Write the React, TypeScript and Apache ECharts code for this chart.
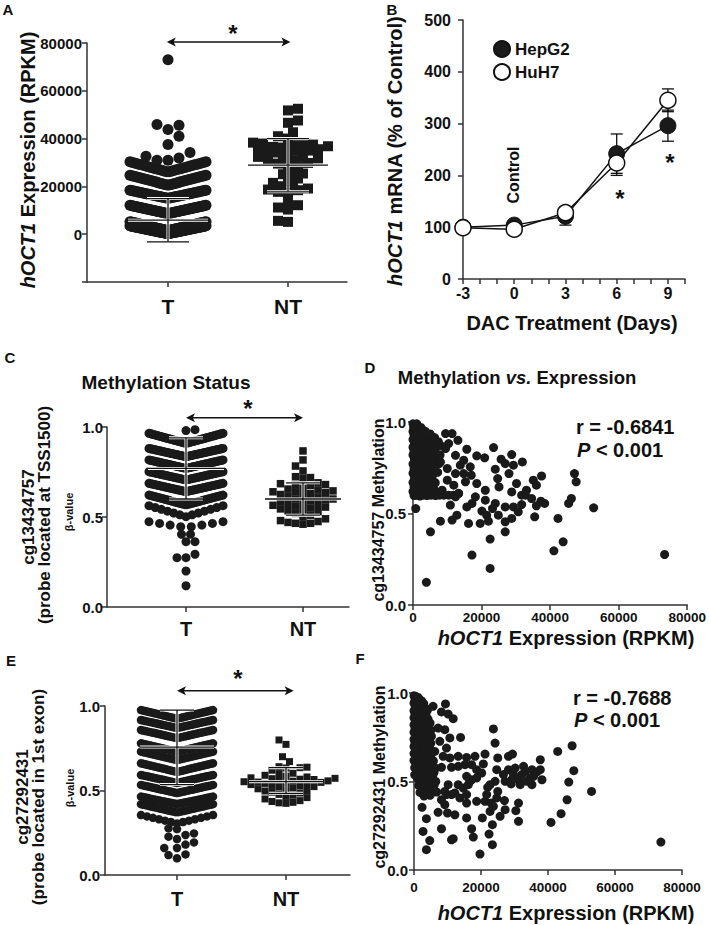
import React, { useEffect, useRef } from "react";
import * as echarts from "echarts";

const FONT = "'Liberation Sans', Arial, Helvetica, sans-serif";
const INK = "#1a1a1a";
const GROUPS = ["T", "NT"];

// ---------- Panel A: hOCT1 expression (RPKM)
// GraphPad dot-plot rows of the tumour group: lo = value at row centre, hi = value at row ends, n = points
const A_T_ROWS = [
  { lo: 200, hi: 3500, n: 80 },
  { lo: 1500, hi: 5200, n: 70 },
  { lo: 8600, hi: 12100, n: 55 },
  { lo: 15000, hi: 18400, n: 45 },
  { lo: 20500, hi: 24700, n: 40 },
  { lo: 26000, hi: 30300, n: 30 },
];
const A_T_SINGLE = [30960, 30960, 31900, 32640, 34160, 37500, 41000, 43800, 45600, 45900, 73000];
const A_NT = [
  52480, 51790, 47580, 46610, 42650, 40030, 40990, 37930, 37230, 36810, 36530, 37230, 37500, 38300,
  35970, 34990, 34160, 33880, 34160, 34990, 35560, 36250, 32370, 31680, 30980, 31260, 31680, 32370,
  29540, 28150, 28430, 29820, 25100, 25380, 25380, 23300, 22600, 20500, 18690, 17710, 17710, 18410,
  19110, 20080, 21480, 14220, 10320, 11160, 12130, 5160, 5580,
];
// [mean, lower, upper]
const A_STATS = [[5860, -3200, 14900], [28870, 17710, 40030]];
// significance bracket: [from group, to group, height]
const A_BRACKET = [0.99, 2.02, 80400];

// ---------- Panel B: DAC treatment time course
const DAYS = [-3, 0, 3, 6, 9];
const HEPG2 = [100, 104, 121, 242, 296];
const HEPG2_ERR = [0, 6, 17, 38, 30];
const HUH7 = [99, 96, 128, 224, 345];
const HUH7_ERR = [0, 5, 10, 24, 22];

// ---------- Panel C: cg13434757 beta values
const C_T_ROWS = [
  { lo: 0.909, hi: 0.965, n: 50 },
  { lo: 0.835, hi: 0.881, n: 50 },
  { lo: 0.77, hi: 0.817, n: 50 },
  { lo: 0.706, hi: 0.752, n: 45 },
  { lo: 0.641, hi: 0.687, n: 45 },
  { lo: 0.567, hi: 0.622, n: 40 },
  { lo: 0.502, hi: 0.563, n: 13 },
  { lo: 0.441, hi: 0.474, n: 8 },
];
const C_T_SINGLE = [0.98, 0.985, 0.404, 0.404, 0.363, 0.363, 0.293, 0.274, 0.274, 0.2, 0.118];
const C_NT = [
  0.867, 0.817, 0.783, 0.756, 0.724, 0.719, 0.715, 0.69, 0.685, 0.68, 0.68, 0.675, 0.66, 0.655, 0.65,
  0.645, 0.64, 0.64, 0.635, 0.63, 0.625, 0.62, 0.615, 0.61, 0.6, 0.6, 0.595, 0.59, 0.585, 0.58, 0.575,
  0.57, 0.565, 0.56, 0.555, 0.55, 0.545, 0.54, 0.535, 0.53, 0.52, 0.51, 0.5, 0.49, 0.48, 0.475, 0.47,
  0.465, 0.465, 0.46,
];
const C_STATS = [[0.77, 0.6, 0.94], [0.6, 0.51, 0.69]];
const C_BRACKET = [1.0, 2.0, 1.052];

// ---------- Panel E: cg27292431 beta values
const E_T_ROWS = [
  { lo: 0.925, hi: 0.976, n: 35 },
  { lo: 0.87, hi: 0.917, n: 35 },
  { lo: 0.81, hi: 0.858, n: 35 },
  { lo: 0.73, hi: 0.779, n: 35 },
  { lo: 0.68, hi: 0.73, n: 35 },
  { lo: 0.61, hi: 0.661, n: 35 },
  { lo: 0.545, hi: 0.592, n: 35 },
  { lo: 0.485, hi: 0.533, n: 35 },
  { lo: 0.42, hi: 0.464, n: 30 },
  { lo: 0.37, hi: 0.419, n: 30 },
  { lo: 0.305, hi: 0.355, n: 13 },
];
const E_T_SINGLE = [0.276, 0.246, 0.227, 0.237, 0.272, 0.213, 0.18, 0.16, 0.16, 0.193, 0.122, 0.099, 0.118];
const E_NT = [
  0.799, 0.773, 0.7, 0.671, 0.641, 0.638, 0.635, 0.633, 0.62, 0.602, 0.6, 0.59, 0.585, 0.58, 0.575,
  0.572, 0.57, 0.567, 0.565, 0.56, 0.557, 0.555, 0.552, 0.55, 0.548, 0.545, 0.542, 0.54, 0.535, 0.53,
  0.527, 0.523, 0.52, 0.515, 0.51, 0.505, 0.5, 0.497, 0.49, 0.485, 0.477, 0.472, 0.465, 0.458, 0.45,
  0.44, 0.435, 0.43, 0.427, 0.424,
];
const E_STATS = [[0.757, 0.535, 0.976], [0.552, 0.483, 0.635]];
const E_BRACKET = [1.0, 2.07, 1.09];

// ---------- Panel D: expression (RPKM) vs cg13434757 methylation
const D_POINTS = [
  [0,0.99],[500,0.985],[1100,0.99],[200,0.968],[900,0.972],[1600,0.965],[2300,0.97],
  [0,0.948],[700,0.952],[1400,0.945],[2100,0.95],[2900,0.955],[3600,0.948],
  [300,0.93],[1000,0.925],[1800,0.932],[2600,0.928],[3300,0.922],[4200,0.93],[5000,0.935],
  [0,0.905],[600,0.91],[1300,0.902],[2000,0.908],[2800,0.912],[3700,0.905],[4500,0.9],[5400,0.91],[6300,0.915],
  [400,0.885],[1100,0.89],[1900,0.882],[2700,0.886],[3500,0.878],[4300,0.884],[5200,0.88],[6200,0.888],[7400,0.892],
  [0,0.862],[800,0.866],[1500,0.858],[2300,0.864],[3100,0.86],[4000,0.855],[4900,0.862],[5900,0.858],[7000,0.866],[8200,0.87],
  [300,0.842],[1100,0.838],[1800,0.845],[2600,0.84],[3400,0.835],[4300,0.842],[5300,0.838],[6500,0.835],
  [0,0.82],[700,0.816],[1500,0.822],[2200,0.815],[3000,0.818],[3900,0.812],[4800,0.82],[5800,0.815],[6800,0.81],[7900,0.82],
  [400,0.795],[1200,0.79],[2000,0.798],[2800,0.792],[3600,0.788],[4500,0.795],[5500,0.79],
  [0,0.77],[800,0.775],[1600,0.768],[2400,0.772],[3200,0.765],[4100,0.77],[5100,0.762],[6300,0.768],[7600,0.772],
  [300,0.745],[1100,0.75],[1900,0.742],[2700,0.748],[3500,0.74],[4400,0.745],[5300,0.738],
  [0,0.72],[700,0.725],[1500,0.718],[2300,0.722],[3100,0.715],[3900,0.72],[4900,0.712],[6000,0.718],[7200,0.725],
  [400,0.695],[1200,0.7],[2000,0.692],[2800,0.698],[3700,0.69],[4600,0.695],[5600,0.688],
  [0,0.67],[800,0.675],[1600,0.668],[2500,0.672],[3300,0.665],[4200,0.67],[5200,0.662],[6500,0.668],
  [300,0.645],[1100,0.65],[1900,0.642],[2800,0.648],[3700,0.64],[4800,0.645],[6000,0.638],
  [0,0.62],[700,0.625],[1500,0.618],[2400,0.622],[3300,0.615],[4300,0.62],[5500,0.612],[6800,0.618],
  [300,0.598],[1100,0.6],[2000,0.595],[3000,0.6],[4100,0.598],[5300,0.6],[6600,0.598],[7800,0.6],[9000,0.6],
  [10400,0.6],[11800,0.6],[13300,0.61],
  [9500,0.855],[10400,0.882],[12400,0.818],[10000,0.746],[12400,0.718],[10000,0.682],[11900,0.655],
  [13300,0.609],[8500,0.627],[13800,0.764],[8000,0.782],
  [9500,0.937],[11400,0.937],[13100,0.9],[15700,0.851],[23500,0.86],[18600,0.815],[20900,0.804],
  [25700,0.797],[28800,0.822],[26900,0.773],[29300,0.764],[31900,0.782],[14800,0.791],[16700,0.755],
  [17000,0.709],[14800,0.718],[15300,0.673],[18600,0.664],[21100,0.627],[24000,0.742],[24700,0.691],
  [25100,0.645],[28000,0.718],[30200,0.664],[28800,0.618],[31700,0.6],[35100,0.682],[37500,0.705],
  [36000,0.655],[33100,0.627],[34600,0.582],[37300,0.567],[36000,0.542],[31700,0.549],[29300,0.536],
  [26900,0.536],[24000,0.555],[23200,0.527],[21100,0.573],[20100,0.513],[21500,0.491],[18200,0.591],
  [17200,0.555],[15700,0.536],[12400,0.591],[12800,0.491],[10900,0.546],[11400,0.464],[8000,0.458],
  [5100,0.4],[16200,0.446],[19600,0.446],[22000,0.458],[24900,0.491],[26900,0.455],[26900,0.4],
  [28800,0.473],[30700,0.509],[35500,0.482],[42300,0.473],[45400,0.555],[46200,0.582],[47100,0.718],
  [47600,0.673],[52700,0.531],[43800,0.345],[41100,0.296],[22500,0.36],[17200,0.273],[22500,0.2],
  [3900,0.124],[73400,0.276],[800,0.527],[38400,0.555],[32800,0.6],
];

// ---------- Panel F: expression (RPKM) vs cg27292431 methylation
const F_POINTS = [
  [0,0.985],[600,0.98],[1200,0.975],[300,0.962],[900,0.958],[1600,0.965],[2300,0.955],
  [0,0.942],[700,0.938],[1400,0.945],[2100,0.935],[2900,0.94],
  [400,0.92],[1100,0.925],[1800,0.918],[2600,0.922],[3400,0.915],
  [0,0.9],[800,0.905],[1500,0.898],[2300,0.9],[3100,0.895],[4000,0.902],
  [300,0.88],[1100,0.876],[1900,0.882],[2700,0.878],[3600,0.872],
  [0,0.86],[700,0.856],[1500,0.862],[2300,0.855],[3200,0.858],[4200,0.852],
  [400,0.838],[1200,0.842],[2000,0.835],[2900,0.84],[3800,0.836],[4800,0.83],
  [0,0.82],[800,0.815],[1600,0.822],[2500,0.818],[3400,0.812],[4400,0.816],
  [300,0.798],[1100,0.802],[1900,0.795],[2800,0.8],[3800,0.796],[5000,0.79],
  [0,0.778],[700,0.782],[1500,0.775],[2400,0.78],[3300,0.772],[4300,0.776],
  [400,0.758],[1200,0.762],[2100,0.755],[3000,0.76],[4000,0.752],[5200,0.756],
  [0,0.738],[800,0.742],[1700,0.735],[2600,0.74],[3600,0.732],
  [300,0.718],[1100,0.722],[2000,0.715],[2900,0.72],[3900,0.712],[5000,0.716],
  [0,0.698],[700,0.702],[1500,0.695],[2400,0.7],[3400,0.692],[4600,0.696],
  [400,0.678],[1300,0.682],[2200,0.675],[3200,0.68],[4300,0.672],
  [0,0.658],[900,0.662],[1800,0.655],[2800,0.66],[3900,0.652],[5200,0.656],
  [500,0.638],[1400,0.642],[2400,0.635],[3500,0.64],[4800,0.632],
  [0,0.618],[1000,0.622],[2000,0.615],[3100,0.62],[4400,0.612],[5800,0.616],
  [600,0.598],[1600,0.602],[2700,0.595],[3900,0.6],[5300,0.592],
  [200,0.578],[1200,0.582],[2300,0.575],[3600,0.58],[5000,0.572],[6400,0.576],
  [800,0.558],[1900,0.562],[3200,0.555],[4600,0.56],[6000,0.552],
  [200,0.538],[1500,0.542],[2800,0.535],[4200,0.54],[5600,0.532],
  [1000,0.518],[2400,0.522],[3800,0.515],[5300,0.52],
  [1800,0.498],[3300,0.502],[4900,0.495],[6500,0.5],
  [1400,0.478],[2900,0.482],[4500,0.475],[6000,0.48],
  [2200,0.458],[3900,0.462],[5600,0.455],
  [1800,0.438],[3500,0.442],[5200,0.435],[6800,0.44],
  [3000,0.418],[4800,0.422],
  [5700,0.925],[9400,0.938],[8200,0.893],[10200,0.881],[11700,0.855],[7200,0.802],[9200,0.793],
  [10700,0.746],[13900,0.749],[7700,0.727],[9700,0.689],[6200,0.67],[8700,0.642],[10700,0.633],
  [13200,0.642],[15700,0.636],[18200,0.642],[21200,0.655],[20700,0.599],[8200,0.58],[11200,0.58],
  [13200,0.586],[15200,0.595],[17200,0.595],[18700,0.567],[20200,0.548],[17200,0.51],[16700,0.501],
  [18700,0.52],[15700,0.529],[14700,0.463],[16200,0.482],[13200,0.482],[10200,0.482],[9200,0.444],
  [11200,0.426],[13700,0.407],[15700,0.426],[12200,0.435],[9700,0.426],[8200,0.397],[9200,0.369],
  [7200,0.326],[10000,0.322],[15700,0.378],[18700,0.388],[21200,0.388],[23000,0.378],[23700,0.36],
  [22000,0.467],[22700,0.482],[24200,0.501],[25000,0.444],[25700,0.303],[20400,0.294],[15700,0.294],
  [17200,0.233],[17700,0.186],[22400,0.203],[23400,0.256],[23400,0.143],[19700,0.09],[11200,0.171],
  [11700,0.177],[8200,0.233],[4700,0.166],[3700,0.115],[2700,0.218],[3700,0.29],[2400,0.354],
  [23700,0.797],[24200,0.717],[25000,0.633],[24700,0.567],[28200,0.642],[29400,0.655],[28200,0.567],
  [29700,0.539],[30200,0.576],[32700,0.586],[35200,0.567],[37700,0.567],[35700,0.529],[38200,0.51],
  [31200,0.51],[27200,0.501],[29000,0.486],[33700,0.501],[32200,0.539],[35200,0.482],[37700,0.623],
  [27000,0.392],[27200,0.341],[31200,0.378],[30400,0.335],[31200,0.275],[42900,0.67],[47200,0.702],
  [47700,0.561],[46200,0.497],[53000,0.444],[45700,0.397],[43900,0.318],[40900,0.269],[73700,0.158],
  [26700,0.539],[33200,0.557],[36700,0.554],[31700,0.482],[34700,0.52],[29200,0.51],[21700,0.426],
  [24700,0.407],[22700,0.331],[12200,0.312],
];

// ---------- layout (pixels)
const GRID = [
  { left: 87, top: 43, width: 260, height: 239 },   // A
  { left: 463, top: 20, width: 222, height: 259 },  // B
  { left: 107, top: 427, width: 242, height: 180 }, // C
  { left: 413, top: 422, width: 276, height: 183 }, // D
  { left: 105, top: 706, width: 245, height: 169 }, // E
  { left: 414, top: 693, width: 268, height: 177 }, // F
];
const CAT_PX: any = { 0: [168, 288], 2: [186, 303], 4: [177, 286] };

function catRange(idx: number) {
  const g = GRID[idx];
  const [t, nt] = CAT_PX[idx];
  const unit = nt - t;
  return { unit, min: 1 - (t - g.left) / unit, max: 2 + (g.left + g.width - nt) / unit };
}

function rowsLayout(rows: any[], cat: number, unitPx: number, halfPx: number) {
  const out: number[][] = [];
  rows.forEach((r) => {
    for (let i = 0; i < r.n; i++) {
      const t = r.n === 1 ? 0 : -1 + (2 * i) / (r.n - 1);
      out.push([cat + (t * halfPx) / unitPx, r.lo + (r.hi - r.lo) * Math.abs(t)]);
    }
  });
  return out;
}

function swarm(values: number[], cat: number, unitPx: number, pxPerVal: number, size: number, gap = 0.95) {
  const sorted = [...values].sort((a, b) => a - b);
  const placed: number[][] = [];
  const out: number[][] = [];
  sorted.forEach((v, j) => {
    const y = v * pxPerVal;
    let off = 0;
    for (let k = 0; k < 200; k++) {
      const s = j % 2 === 0 ? 1 : -1;
      const cands = k === 0 ? [0] : [s * k * size * 0.5, -s * k * size * 0.5];
      const ok = cands.find((c) => placed.every((p) => Math.hypot(p[0] - c, p[1] - y) >= size * gap));
      if (ok !== undefined) { off = ok; break; }
    }
    placed.push([off, y]);
    out.push([cat + off / unitPx, v]);
  });
  return out;
}

function scatter(idx: number, data: any[], symbol: string, size: number, extra: any = {}) {
  return {
    type: "scatter", xAxisIndex: idx, yAxisIndex: idx, data, symbol, symbolSize: size,
    itemStyle: { color: INK, opacity: 1 }, silent: true, clip: false, z: 3, ...extra,
  };
}

function errSeries(idx: number, data: number[][], meanHalf: number, capHalf: number, halo: boolean, z = 5) {
  return {
    type: "custom", xAxisIndex: idx, yAxisIndex: idx, data, silent: true, z,
    renderItem: (_p: any, api: any) => {
      const x = api.value(0), m = api.value(1), lo = api.value(2), hi = api.value(3);
      const pm = api.coord([x, m]), pl = api.coord([x, lo]), ph = api.coord([x, hi]);
      const segs: number[][] = [
        [pl[0], pl[1], ph[0], ph[1]],
        [pl[0] - capHalf, pl[1], pl[0] + capHalf, pl[1]],
        [ph[0] - capHalf, ph[1], ph[0] + capHalf, ph[1]],
      ];
      if (meanHalf > 0) segs.push([pm[0] - meanHalf, pm[1], pm[0] + meanHalf, pm[1]]);
      const children: any[] = [];
      if (halo) segs.forEach((s) => children.push({ type: "line", shape: { x1: s[0], y1: s[1], x2: s[2], y2: s[3] }, style: { stroke: "#fff", lineWidth: 3 } }));
      segs.forEach((s) => children.push({ type: "line", shape: { x1: s[0], y1: s[1], x2: s[2], y2: s[3] }, style: { stroke: "#111", lineWidth: 1.3 } }));
      return { type: "group", children };
    },
  };
}

function bracketSeries(idx: number, b: number[]) {
  return {
    type: "custom", xAxisIndex: idx, yAxisIndex: idx, data: [b], silent: true, z: 6, clip: false,
    renderItem: (_p: any, api: any) => {
      const a = api.coord([api.value(0), api.value(2)]);
      const c = api.coord([api.value(1), api.value(2)]);
      const L = 9, H = 4.5;
      return {
        type: "group",
        children: [
          { type: "line", shape: { x1: a[0] + 3, y1: a[1], x2: c[0] - 3, y2: c[1] }, style: { stroke: "#111", lineWidth: 1.5 } },
          { type: "polygon", shape: { points: [[a[0], a[1]], [a[0] + L, a[1] - H], [a[0] + L * 0.75, a[1]], [a[0] + L, a[1] + H]] }, style: { fill: "#111" } },
          { type: "polygon", shape: { points: [[c[0], c[1]], [c[0] - L, c[1] - H], [c[0] - L * 0.75, c[1]], [c[0] - L, c[1] + H]] }, style: { fill: "#111" } },
        ],
      };
    },
  };
}

const lineStyle = { color: "#333", width: 1.5 };
function axis(idx: number, o: any) {
  return {
    gridIndex: idx, type: "value", min: o.min, max: o.max, interval: o.interval,
    axisLine: { show: true, onZero: false, lineStyle },
    axisTick: { show: true, length: 5, lineStyle, ...(o.tickValues ? { customValues: o.tickValues } : {}) },
    splitLine: { show: false },
    axisLabel: {
      fontFamily: FONT, fontWeight: "bold", fontSize: o.fontSize, color: "#111", margin: o.margin,
      formatter: o.formatter, ...(o.tickValues ? { customValues: o.tickValues } : {}),
    },
  };
}

const richI = (size: number) => ({ i: { fontStyle: "italic", fontWeight: "bold", fontFamily: FONT, fontSize: size, fill: "#111" } });
function txt(x: number, y: number, text: string, size: number, o: any = {}) {
  return {
    type: "text", x, y, rotation: o.rot || 0, silent: true, z: 10,
    style: {
      text, fontFamily: FONT, fontWeight: "bold", fontSize: size, fontStyle: o.italic ? "italic" : "normal",
      fill: "#111", align: o.align || "center", verticalAlign: "middle", rich: o.rich,
    },
  };
}

function buildOption() {
  const rA = catRange(0), rC = catRange(2), rE = catRange(4);
  const pxA = GRID[0].height / 100000, pxC = GRID[2].height, pxE = GRID[4].height;
  const catFmt = (v: number) => GROUPS[Math.round(v) - 1] || "";
  const numFmt = (v: number) => (v < 0 ? "" : String(v));
  const oneFmt = (v: number) => v.toFixed(1);
  const R = Math.PI / 2;

  const xAxis = [
    axis(0, { min: rA.min, max: rA.max, tickValues: [1, 2], fontSize: 21, margin: 14, formatter: catFmt }),
    axis(1, { min: -3, max: 10, interval: 1, fontSize: 16, margin: 6, formatter: (v: number) => ((v + 3) % 3 === 0 && v <= 9 ? String(v) : "") }),
    axis(2, { min: rC.min, max: rC.max, tickValues: [1, 2], fontSize: 20, margin: 12, formatter: catFmt }),
    axis(3, { min: 0, max: 80000, interval: 20000, fontSize: 13.5, margin: 5, formatter: numFmt }),
    axis(4, { min: rE.min, max: rE.max, tickValues: [1, 2], fontSize: 20, margin: 14, formatter: catFmt }),
    axis(5, { min: 0, max: 80000, interval: 20000, fontSize: 13.5, margin: 10, formatter: numFmt }),
  ];
  const yAxis = [
    axis(0, { min: -20000, max: 80000, interval: 20000, fontSize: 15, margin: 5, formatter: numFmt }),
    axis(1, { min: 0, max: 500, interval: 100, fontSize: 16, margin: 12, formatter: numFmt }),
    axis(2, { min: 0, max: 1, interval: 0.5, fontSize: 15, margin: 4, formatter: oneFmt }),
    axis(3, { min: 0, max: 1, interval: 0.5, fontSize: 15, margin: 7, formatter: oneFmt }),
    axis(4, { min: 0, max: 1, interval: 0.5, fontSize: 15, margin: 5, formatter: oneFmt }),
    axis(5, { min: 0, max: 1, interval: 0.5, fontSize: 15, margin: 6, formatter: oneFmt }),
  ];

  const series: any[] = [
    // A
    scatter(0, [...rowsLayout(A_T_ROWS, 1, rA.unit, 38), ...swarm(A_T_SINGLE, 1, rA.unit, pxA, 11)], "circle", 11),
    scatter(0, swarm(A_NT, 2, rA.unit, pxA, 10, 0.68), "rect", 10),
    errSeries(0, [[1, ...A_STATS[0]], [2, ...A_STATS[1]]], 40, 21, true),
    bracketSeries(0, A_BRACKET),
    // B
    errSeries(1, DAYS.map((d, i) => [d, HEPG2[i], HEPG2[i] - HEPG2_ERR[i], HEPG2[i] + HEPG2_ERR[i]]), 0, 6, false, 2),
    errSeries(1, DAYS.map((d, i) => [d, HUH7[i], HUH7[i] - HUH7_ERR[i], HUH7[i] + HUH7_ERR[i]]), 0, 6, false, 2),
    {
      type: "line", name: "HepG2", xAxisIndex: 1, yAxisIndex: 1, data: DAYS.map((d, i) => [d, HEPG2[i]]),
      symbol: "circle", symbolSize: 16, lineStyle: { color: "#111", width: 1.5 },
      itemStyle: { color: INK, borderColor: "#111", borderWidth: 1 }, z: 4, silent: true,
    },
    {
      type: "line", name: "HuH7", xAxisIndex: 1, yAxisIndex: 1, data: DAYS.map((d, i) => [d, HUH7[i]]),
      symbol: "circle", symbolSize: 16, lineStyle: { color: "#111", width: 1.5 },
      itemStyle: { color: "#fff", borderColor: "#111", borderWidth: 1.5 }, z: 5, silent: true,
    },
    // C
    scatter(2, [...rowsLayout(C_T_ROWS, 1, rC.unit, 37), ...swarm(C_T_SINGLE, 1, rC.unit, pxC, 9)], "circle", 9),
    scatter(2, swarm(C_NT, 2, rC.unit, pxC, 7.5, 0.9), "rect", 7.5),
    errSeries(2, [[1, ...C_STATS[0]], [2, ...C_STATS[1]]], 38, 17, true),
    bracketSeries(2, C_BRACKET),
    // D
    scatter(3, D_POINTS, "circle", 9),
    // E
    scatter(4, [...rowsLayout(E_T_ROWS, 1, rE.unit, 36), ...swarm(E_T_SINGLE, 1, rE.unit, pxE, 8.5)], "circle", 8.5),
    scatter(4, swarm(E_NT, 2, rE.unit, pxE, 7), "rect", 7),
    errSeries(4, [[1, ...E_STATS[0]], [2, ...E_STATS[1]]], 37, 17, true),
    bracketSeries(4, E_BRACKET),
    // F
    scatter(5, F_POINTS, "circle", 9),
  ];

  const graphic = [
    txt(8, 9, "A", 15), txt(392, 9, "B", 15), txt(10, 357, "C", 15),
    txt(370, 367, "D", 15), txt(11, 660, "E", 15), txt(360, 658, "F", 15),
    // A
    txt(28, 160, "{i|hOCT1} Expression (RPKM)", 20, { rot: R, rich: richI(20) }),
    txt(233, 33, "*", 24),
    // B
    txt(395, 151, "{i|hOCT1} mRNA (% of Control)", 20, { rot: R, rich: richI(20) }),
    txt(572, 323, "DAC Treatment (Days)", 20),
    txt(513, 175, "Control", 16, { rot: R }),
    txt(620, 198, "*", 24), txt(670, 162, "*", 24),
    // C
    txt(166, 382, "Methylation Status", 19),
    txt(248, 408, "*", 24),
    txt(28, 517, "cg13434757", 17, { rot: R }),
    txt(44, 515, "(probe located at TSS1500)", 17, { rot: R }),
    txt(69, 512, "\u03b2-value", 11, { rot: R }),
    // D
    txt(517, 377, "Methylation {i|vs.} Expression", 18.5, { rich: richI(18.5) }),
    txt(378, 510, "cg13434757 Methylation", 16, { rot: R }),
    txt(566, 638, "{i|hOCT1} Expression (RPKM)", 20, { rich: richI(20) }),
    txt(576, 427, "r = -0.6841", 20, { align: "left" }),
    txt(577, 450, "{i|P} < 0.001", 20, { align: "left", rich: richI(20) }),
    // E
    txt(238, 678, "*", 24),
    txt(22, 797, "cg27292431", 17, { rot: R }),
    txt(38, 797, "(probe located in 1st exon)", 17, { rot: R }),
    txt(70, 788, "\u03b2-value", 11, { rot: R }),
    // F
    txt(379, 777, "cg27292431 Methylation", 16, { rot: R }),
    txt(566, 913, "{i|hOCT1} Expression (RPKM)", 20, { rich: richI(20) }),
    txt(573, 698, "r = -0.7688", 20, { align: "left" }),
    txt(574, 720, "{i|P} < 0.001", 20, { align: "left", rich: richI(20) }),
  ];

  return {
    animation: false,
    backgroundColor: "#fff",
    textStyle: { fontFamily: FONT },
    grid: GRID.map((g) => ({ ...g, containLabel: false })),
    xAxis, yAxis, series, graphic,
    legend: {
      data: ["HepG2", "HuH7"], left: 488, top: 35, orient: "vertical", itemWidth: 16, itemHeight: 16,
      itemGap: 5, icon: "circle", selectedMode: false,
      textStyle: { fontFamily: FONT, fontWeight: "bold", fontSize: 17, color: "#111" },
    },
  };
}

export default function App() {
  const ref = useRef<HTMLDivElement>(null);
  useEffect(() => {
    if (!ref.current) return;
    const chart = echarts.init(ref.current, undefined, { renderer: "svg" });
    chart.setOption(buildOption() as any);
    return () => chart.dispose();
  }, []);
  return <div ref={ref} style={{ position: "absolute", left: 0, top: 0, width: 709, height: 925, background: "#fff" }} />;
}
